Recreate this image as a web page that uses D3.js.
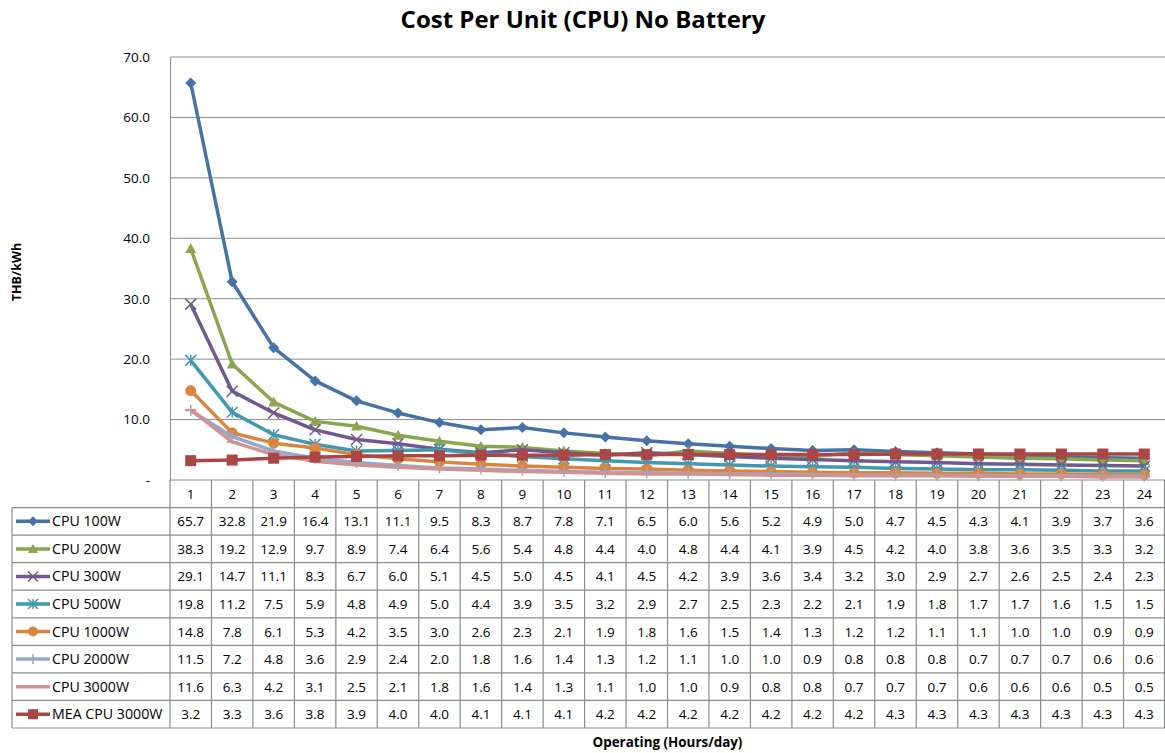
<!DOCTYPE html>
<html>
<head>
<meta charset="utf-8">
<script src="https://cdn.jsdelivr.net/npm/d3@7"></script>
<style>
  body { margin: 0; background: #fff; }
  svg { display: block; font-family: "Open Sans", "Noto Sans", sans-serif; }
</style>
</head>
<body>
<div id="chart"></div>
<script>
// Chart size
const width = 1165;
const height = 753;

// Operating hours per day (x categories)
const hours = d3.range(1, 25);

// Cost per unit values, THB/kWh
const cpu100 = [65.7, 32.8, 21.9, 16.4, 13.1, 11.1, 9.5, 8.3, 8.7, 7.8, 7.1, 6.5, 6.0, 5.6, 5.2, 4.9, 5.0, 4.7, 4.5, 4.3, 4.1, 3.9, 3.7, 3.6];
const cpu200 = [38.3, 19.2, 12.9, 9.7, 8.9, 7.4, 6.4, 5.6, 5.4, 4.8, 4.4, 4.0, 4.8, 4.4, 4.1, 3.9, 4.5, 4.2, 4.0, 3.8, 3.6, 3.5, 3.3, 3.2];
const cpu300 = [29.1, 14.7, 11.1, 8.3, 6.7, 6.0, 5.1, 4.5, 5.0, 4.5, 4.1, 4.5, 4.2, 3.9, 3.6, 3.4, 3.2, 3.0, 2.9, 2.7, 2.6, 2.5, 2.4, 2.3];
const cpu500 = [19.8, 11.2, 7.5, 5.9, 4.8, 4.9, 5.0, 4.4, 3.9, 3.5, 3.2, 2.9, 2.7, 2.5, 2.3, 2.2, 2.1, 1.9, 1.8, 1.7, 1.7, 1.6, 1.5, 1.5];
const cpu1000 = [14.8, 7.8, 6.1, 5.3, 4.2, 3.5, 3.0, 2.6, 2.3, 2.1, 1.9, 1.8, 1.6, 1.5, 1.4, 1.3, 1.2, 1.2, 1.1, 1.1, 1.0, 1.0, 0.9, 0.9];
const cpu2000 = [11.5, 7.2, 4.8, 3.6, 2.9, 2.4, 2.0, 1.8, 1.6, 1.4, 1.3, 1.2, 1.1, 1.0, 1.0, 0.9, 0.8, 0.8, 0.8, 0.7, 0.7, 0.7, 0.6, 0.6];
const cpu3000 = [11.6, 6.3, 4.2, 3.1, 2.5, 2.1, 1.8, 1.6, 1.4, 1.3, 1.1, 1.0, 1.0, 0.9, 0.8, 0.8, 0.7, 0.7, 0.7, 0.6, 0.6, 0.6, 0.5, 0.5];
const mea3000 = [3.2, 3.3, 3.6, 3.8, 3.9, 4.0, 4.0, 4.1, 4.1, 4.1, 4.2, 4.2, 4.2, 4.2, 4.2, 4.2, 4.2, 4.3, 4.3, 4.3, 4.3, 4.3, 4.3, 4.3];

const seriesNames = ["CPU 100W", "CPU 200W", "CPU 300W", "CPU 500W", "CPU 1000W", "CPU 2000W", "CPU 3000W", "MEA CPU 3000W"];
const seriesValues = [cpu100, cpu200, cpu300, cpu500, cpu1000, cpu2000, cpu3000, mea3000];
const seriesColors = ["#4572A7", "#89A54E", "#71588F", "#4198AF", "#DB843D", "#93A9CF", "#D19392", "#AA4643"];
const seriesMarkers = ["diamond", "triangle", "x", "star", "circle", "plus", "dash", "square"];

const yTicks = [0, 10, 20, 30, 40, 50, 60, 70];

const series = seriesNames.map((name, i) => ({
  name, values: seriesValues[i], color: seriesColors[i], marker: seriesMarkers[i]
}));

// Layout
const plotLeft = 170, plotRight = 1165, plotTop = 57, plotBottom = 480;
const tableLeft = 12, tableBottom = 728;

const svg = d3.select("#chart").append("svg")
  .attr("width", width)
  .attr("height", height);

const x = d3.scaleBand().domain(hours).range([plotLeft, plotRight]);
const y = d3.scaleLinear().domain([0, 70]).range([plotBottom, plotTop]);
const rowY = d3.scaleBand().domain(["head"].concat(seriesNames)).range([plotBottom, tableBottom]);

// Title
svg.append("text")
  .attr("x", 583).attr("y", 28)
  .attr("text-anchor", "middle")
  .attr("font-size", 24).attr("font-weight", "bold")
  .text("Cost Per Unit (CPU) No Battery");

// Gridlines
svg.append("g").selectAll("line")
  .data(yTicks.filter(d => d > 0))
  .join("line")
  .attr("x1", plotLeft).attr("x2", plotRight)
  .attr("y1", d => y(d)).attr("y2", d => y(d))
  .attr("stroke", "#8c8c8c").attr("stroke-width", 1);

// Y axis
const yAxis = svg.append("g")
  .attr("transform", `translate(${plotLeft},0)`)
  .call(d3.axisLeft(y).tickValues(yTicks).tickSize(0).tickPadding(20)
    .tickFormat(d => d === 0 ? "-" : d3.format(".1f")(d)));
yAxis.select(".domain").attr("stroke", "#8c8c8c");
yAxis.selectAll("text").attr("font-size", 13.5).attr("font-family", "Open Sans, sans-serif").attr("fill", "#000");

svg.append("text")
  .attr("transform", "translate(21,272) rotate(-90)")
  .attr("text-anchor", "middle")
  .attr("font-size", 12.5).attr("font-weight", "bold")
  .text("THB/kWh");

// Data table
const table = svg.append("g");
const gridColor = "#8c8c8c";
// horizontal lines
rowY.domain().forEach((r, i) => {
  const yy = rowY(r);
  table.append("line")
    .attr("x1", i === 0 ? plotLeft : tableLeft).attr("x2", plotRight)
    .attr("y1", yy).attr("y2", yy)
    .attr("stroke", gridColor).attr("stroke-width", 1.2);
});
table.append("line")
  .attr("x1", tableLeft).attr("x2", plotRight)
  .attr("y1", tableBottom).attr("y2", tableBottom)
  .attr("stroke", gridColor).attr("stroke-width", 1.2);
// vertical lines
table.append("line")
  .attr("x1", tableLeft).attr("x2", tableLeft)
  .attr("y1", rowY(seriesNames[0])).attr("y2", tableBottom)
  .attr("stroke", gridColor).attr("stroke-width", 1.2);
hours.forEach(h => {
  table.append("line")
    .attr("x1", x(h)).attr("x2", x(h))
    .attr("y1", plotBottom).attr("y2", tableBottom)
    .attr("stroke", gridColor).attr("stroke-width", 1.2);
});
table.append("line")
  .attr("x1", plotRight - 0.5).attr("x2", plotRight - 0.5)
  .attr("y1", plotBottom).attr("y2", tableBottom)
  .attr("stroke", gridColor).attr("stroke-width", 1.2);

// header row
table.selectAll(".hdr")
  .data(hours)
  .join("text")
  .attr("x", d => x(d) + x.bandwidth() / 2)
  .attr("y", rowY("head") + rowY.bandwidth() / 2 + 5)
  .attr("text-anchor", "middle")
  .attr("font-size", 13.5)
  .text(d => d);

// value cells
series.forEach(s => {
  const cy = rowY(s.name) + rowY.bandwidth() / 2 + 5;
  table.append("g").selectAll("text")
    .data(s.values)
    .join("text")
    .attr("x", (d, i) => x(hours[i]) + x.bandwidth() / 2)
    .attr("y", cy)
    .attr("text-anchor", "middle")
    .attr("font-size", 13.5)
    .text(d => d3.format(".1f")(d));
});

// marker drawing
function drawMarker(g, type, color, cx, cy, s) {
  const r = s / 2;
  if (type === "diamond") {
    g.append("path").attr("d", `M${cx},${cy - r}L${cx + r},${cy}L${cx},${cy + r}L${cx - r},${cy}Z`).attr("fill", color);
  } else if (type === "triangle") {
    g.append("path").attr("d", `M${cx},${cy - r}L${cx + r},${cy + r * 0.8}L${cx - r},${cy + r * 0.8}Z`).attr("fill", color);
  } else if (type === "square") {
    g.append("rect").attr("x", cx - r).attr("y", cy - r).attr("width", s).attr("height", s).attr("fill", color);
  } else if (type === "circle") {
    g.append("circle").attr("cx", cx).attr("cy", cy).attr("r", r).attr("fill", color);
  } else if (type === "x") {
    g.append("path").attr("d", `M${cx - r},${cy - r}L${cx + r},${cy + r}M${cx - r},${cy + r}L${cx + r},${cy - r}`)
      .attr("stroke", color).attr("stroke-width", 1.5);
  } else if (type === "star") {
    g.append("path").attr("d", `M${cx - r},${cy - r}L${cx + r},${cy + r}M${cx - r},${cy + r}L${cx + r},${cy - r}M${cx},${cy - r}L${cx},${cy + r}`)
      .attr("stroke", color).attr("stroke-width", 1.5);
  } else if (type === "plus") {
    g.append("path").attr("d", `M${cx - r},${cy}L${cx + r},${cy}M${cx},${cy - r}L${cx},${cy + r}`)
      .attr("stroke", color).attr("stroke-width", 1.5);
  } else if (type === "dash") {
    g.append("path").attr("d", `M${cx - r},${cy}L${cx + r},${cy}`)
      .attr("stroke", color).attr("stroke-width", 2);
  }
}

// legend keys in the table
series.forEach(s => {
  const cy = rowY(s.name) + rowY.bandwidth() / 2;
  const g = table.append("g");
  g.append("line")
    .attr("x1", 16).attr("x2", 50)
    .attr("y1", cy).attr("y2", cy)
    .attr("stroke", s.color).attr("stroke-width", 3.5);
  drawMarker(g, s.marker, s.color, 33, cy, 10);
  g.append("text")
    .attr("x", 52).attr("y", cy + 5)
    .attr("font-size", 14.2)
    .text(s.name);
});

// Lines
const line = d3.line()
  .x((d, i) => x(hours[i]) + x.bandwidth() / 2)
  .y(d => y(d));

const lines = svg.append("g");
series.forEach(s => {
  const g = lines.append("g");
  g.append("path")
    .attr("d", line(s.values))
    .attr("fill", "none")
    .attr("stroke", s.color)
    .attr("stroke-width", 3.5)
    .attr("stroke-linejoin", "round");
  s.values.forEach((v, i) => {
    drawMarker(g, s.marker, s.color, x(hours[i]) + x.bandwidth() / 2, y(v), 11);
  });
});

// X axis title
svg.append("text")
  .attr("x", (plotLeft + plotRight) / 2).attr("y", 747)
  .attr("text-anchor", "middle")
  .attr("font-size", 13.4).attr("font-weight", "bold")
  .text("Operating (Hours/day)");
</script>
</body>
</html>
